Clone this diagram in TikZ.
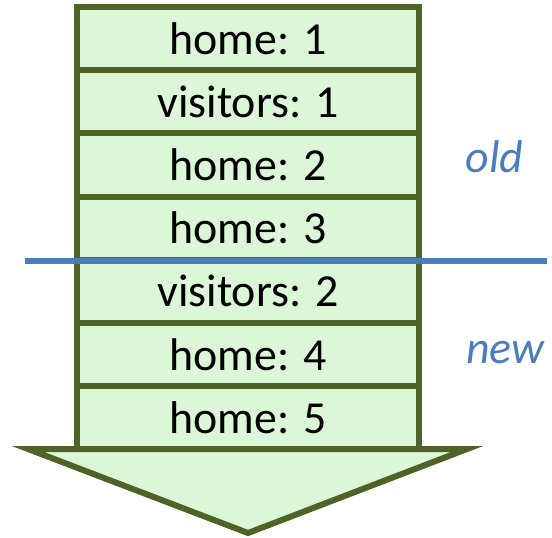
\documentclass[tikz,border=0pt]{standalone}
\usepackage{fontspec}
\setmainfont{Carlito}
\usepackage{tikz}
\usetikzlibrary{positioning}

\definecolor{qfill}{RGB}{220,246,216}
\definecolor{qline}{RGB}{79,98,40}
\definecolor{qblue}{RGB}{74,126,187}

\begin{document}
\begin{tikzpicture}[
    font=\fontsize{26.1pt}{30pt}\selectfont,
    qrow/.style={draw=qline, line width=0.12cm, fill=qfill, rectangle, inner sep=0pt, outer sep=0pt, minimum width=6.84cm, minimum height=1.262cm, align=center},
    qhead/.style={draw=qline, line width=0.12cm, fill=qfill},
    qcut/.style={draw=qblue, line width=0.12cm},
    qlabel/.style={text=qblue, font=\fontsize{26.1pt}{30pt}\selectfont\itshape, anchor=base, inner sep=0pt}
]
\useasboundingbox (0,0) rectangle (11.04,-10.74);

% arrow head below the queue
\draw[qhead] (0.56,-8.98) -- (4.96,-10.66) -- (9.34,-8.98) -- cycle;

\node[qrow] (h1) at (4.96,-0.775) {home: 1};
\node[qrow] (v1) at (4.96,-2.037) {visitors: 1};
\node[qrow] (h2) at (4.96,-3.299) {home: 2};
\node[qrow] (h3) at (4.96,-4.561) {home: 3};
\node[qrow] (v2) at (4.96,-5.823) {visitors: 2};
\node[qrow] (h4) at (4.96,-7.085) {home: 4};
\node[qrow] (h5) at (4.96,-8.347) {home: 5};

% old / new split
\coordinate (cutL) at (0.5,-5.22);
\coordinate (cutR) at (10.94,-5.22);
\draw[qcut] (cutL) -- (cutR);

\node[qlabel] (old) at (9.89,-3.44) {old};
\node[qlabel] (new) at (10.10,-7.26) {new};

\end{tikzpicture}
\end{document}
